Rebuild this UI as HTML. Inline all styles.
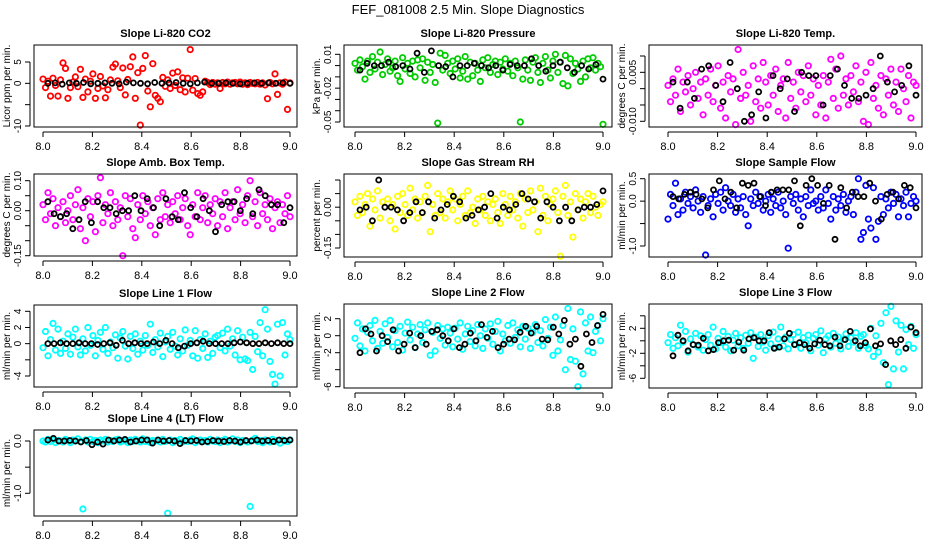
<!DOCTYPE html>
<html><head><meta charset="utf-8">
<style>
html,body{margin:0;padding:0;background:#fff;}
svg{display:block;font-family:"Liberation Sans",Arial,sans-serif;}
</style></head>
<body>
<svg id="chart" width="936" height="540" viewBox="0 0 936 540" xmlns="http://www.w3.org/2000/svg">
<rect width="936" height="540" fill="#fff"/>
<text x="468" y="14" text-anchor="middle" font-size="13">FEF_081008  2.5 Min. Slope Diagnostics</text>
</svg>
<script>
const xTicks = [8.0, 8.2, 8.4, 8.6, 8.8, 9.0];
const xTickLabels = ["8.0", "8.2", "8.4", "8.6", "8.8", "9.0"];

const co2Values = [1,-1,0.5,-3,1.2,-0.5,-3,0.8,4.8,3.5,-3.5,-1,0.3,1.5,-0.8,3.3,-3.3,1,-2,0.5,2.2,-3.5,-1.2,1.6,-0.6,-3.4,-1.5,0.8,3.8,4.5,0.6,-1,3.6,-2.7,0.9,3.9,6.2,-3.5,2.5,-9.8,3.5,6.5,-1.8,-5.5,4.6,-2.8,-3.5,-4.3,1.4,-0.7,0.8,-1.2,2.4,-0.5,2.7,-1.5,1.3,-2,1.2,7.9,-1.6,1.1,-2.4,-2.8,-2,0.5,0.2,-0.3,0.2,-0.2,0.1,-1.2,0.2,-0.1,0.3,-0.2,0.1,0.2,-0.1,0.3,-0.2,0.1,-0.3,0.2,0,-0.1,0.2,-0.2,0.1,-0.4,-3.6,0.2,-0.1,2.2,-2.6,0.1,-0.2,0.3,-6.1,0.1];
const co2Black = [0,0.1,-0.2,0.1,0,0.2,-0.1,0,0.1,0,-0.1,0.3,0.1,0,-0.1,0.2,0,0.1,0.2,0,-0.1,0.1,0.3,0,0,0.1,0,-0.1,0,0.1,0,0.1,0,0.1,0];

const pressValues = [0.002,-0.004,0.005,-0.001,-0.012,0.004,-0.006,0.008,-0.003,0.003,0.012,-0.008,0.001,0.006,-0.005,-0.002,0.004,-0.009,-0.014,0.007,-0.003,0.002,-0.007,0.004,-0.010,0.005,-0.002,0.006,-0.013,0.003,-0.006,0.001,-0.015,-0.051,0.011,-0.004,0.009,0.002,-0.007,0.004,-0.003,0.006,-0.011,-0.005,0.008,-0.012,0.003,-0.009,0.002,-0.004,-0.014,0.005,-0.002,0.007,-0.006,0.001,0.004,-0.008,0.003,-0.003,0.006,-0.005,0.002,-0.009,0.004,-0.002,-0.050,-0.012,0.005,-0.004,-0.013,0.003,0.007,-0.006,-0.015,0.002,0.008,-0.004,-0.011,0.004,0.010,-0.006,0.003,-0.016,0.009,-0.018,0.006,-0.007,0.002,-0.003,-0.014,0.004,-0.010,0.006,-0.002,0.007,-0.004,0.002,-0.001,-0.052];
const pressBlack = [-0.004,0.002,0.000,0.000,0.003,-0.001,0.000,-0.003,0.011,-0.006,0.013,0.000,-0.001,-0.010,0.000,0.000,0.002,0.000,-0.002,0.000,-0.004,0.001,0.000,0.000,0.006,0.000,-0.005,0.000,0.003,-0.002,-0.006,0.000,-0.003,0.001,-0.012];

const tempValues = [0.001,-0.004,0.003,-0.002,0.006,-0.007,0.002,-0.001,0.004,-0.005,0.000,0.005,-0.003,0.002,-0.008,0.003,-0.002,0.006,-0.004,0.001,0.007,-0.006,0.002,-0.009,0.004,-0.001,0.003,-0.011,0.012,-0.003,0.005,-0.002,0.001,-0.010,0.007,-0.004,0.003,-0.006,0.008,0.002,-0.005,0.004,-0.002,0.006,-0.007,0.001,0.003,-0.009,0.008,-0.003,0.002,-0.006,0.005,-0.001,0.004,-0.004,0.007,-0.002,0.003,-0.008,0.001,-0.005,0.004,-0.009,0.002,0.009,-0.003,0.006,-0.006,0.010,-0.002,0.003,-0.005,0.004,-0.001,0.007,-0.004,0.002,-0.010,0.005,-0.011,0.008,-0.003,0.001,-0.006,0.004,-0.008,0.003,-0.002,0.006,-0.005,0.002,-0.007,0.006,0.000,-0.004,0.004,-0.009,0.002,0.001];
const tempBlack = [0.002,-0.006,0.002,-0.003,0.006,0.007,0.001,-0.004,0.008,0.000,-0.010,-0.008,-0.001,-0.009,0.004,0.000,0.003,-0.007,0.005,0.004,0.004,-0.005,0.004,0.006,0.001,-0.003,-0.003,-0.002,0.000,0.010,0.002,-0.001,0.001,0.007,-0.002];

const ambValues = [0.02,-0.03,0.06,-0.01,0.04,-0.05,0.01,-0.02,0.03,-0.04,0.00,0.05,-0.03,0.02,0.07,-0.06,0.01,-0.10,0.04,-0.02,0.03,-0.07,0.05,0.11,-0.04,0.02,-0.01,0.06,-0.05,0.03,-0.03,0.01,-0.15,0.05,-0.02,0.04,-0.06,-0.09,0.02,-0.03,0.05,-0.01,0.03,-0.05,0.01,-0.08,0.04,-0.03,0.06,-0.02,0.02,-0.04,0.03,-0.01,0.05,-0.03,0.01,0.04,-0.05,-0.08,0.02,-0.02,0.06,-0.03,0.01,0.05,-0.04,0.02,-0.01,0.04,-0.05,0.03,-0.02,0.06,-0.06,0.01,0.03,-0.03,0.07,-0.01,0.02,-0.04,0.05,0.10,-0.02,0.03,-0.05,0.06,-0.01,0.02,-0.03,0.04,-0.06,0.01,0.03,-0.04,0.02,-0.01,0.05,-0.02];
const ambBlack = [0.03,-0.01,-0.02,-0.01,-0.06,-0.03,0.03,-0.04,0.03,0.01,0.01,-0.01,0.00,0.00,0.05,0.00,0.04,0.01,-0.05,0.04,-0.02,-0.03,0.06,0.01,-0.02,0.04,0.00,-0.07,0.02,0.03,0.03,0.00,0.04,-0.01,0.07,0.05,0.02,0.02,-0.04,0.01];

const rhValues = [0.02,-0.03,0.04,-0.02,0.01,0.05,-0.07,0.03,-0.01,0.06,-0.04,0.02,0.00,0.03,-0.05,0.01,-0.08,0.04,-0.02,0.05,0.01,-0.03,0.07,-0.01,0.03,-0.04,0.02,-0.02,0.04,0.08,-0.09,0.01,-0.03,0.05,-0.02,0.03,-0.04,0.02,0.06,-0.01,0.03,-0.05,0.01,0.04,-0.03,0.06,-0.02,0.00,-0.06,0.03,-0.01,0.04,-0.03,0.02,-0.05,0.01,0.03,-0.02,-0.06,0.05,0.01,-0.03,0.04,-0.01,0.02,-0.04,0.05,-0.07,0.03,-0.02,0.06,-0.01,0.02,-0.09,0.07,-0.03,0.04,-0.05,0.01,0.03,0.06,-0.02,-0.18,0.04,0.08,-0.03,0.02,-0.11,0.05,-0.01,0.03,-0.04,0.02,0.05,-0.02,0.04,0.00,-0.03,0.01,0.02];
const rhBlack = [-0.01,0.00,-0.05,0.10,0.00,0.00,-0.01,-0.05,-0.02,0.02,-0.02,0.02,-0.04,-0.01,0.01,0.04,0.02,-0.04,-0.03,-0.01,0.00,0.05,-0.04,0.00,-0.01,0.01,0.05,0.03,0.02,-0.04,0.02,0.00,-0.05,0.00,-0.05,-0.01,0.00,0.00,0.01,0.06];

const flowValues = [-0.4,0.15,-0.1,0.4,-0.3,0.05,-0.2,0.2,-0.05,0.1,-0.15,0.25,0.0,-0.25,0.1,-1.2,-0.1,0.05,-0.35,0.15,-0.05,0.2,-0.2,0.3,0.0,-0.1,0.15,-0.25,0.05,-0.15,0.1,-0.3,-0.55,0.05,-0.1,0.2,-0.05,0.1,-0.2,0.0,0.15,-0.25,0.05,-0.1,0.2,-0.15,0.0,-0.3,-1.05,0.1,-0.05,0.15,-0.2,0.05,-0.35,0.1,-0.1,0.25,-0.05,0.0,-0.2,0.1,-0.15,0.25,-0.05,-0.4,0.1,-0.2,0.05,-0.1,0.15,-0.25,0.0,0.1,-0.3,0.2,0.5,-0.85,-0.7,0.35,-0.4,-0.6,0.3,-0.85,-0.45,0.1,-0.3,0.05,-0.15,0.2,-0.05,0.15,-0.35,0.05,-0.1,0.2,-0.35,-0.05,0.1,0.0];
const flowBlack = [0.1,0.05,0.15,0.2,0.15,0.05,-0.15,0.25,0.45,0.05,0.2,-0.15,0.4,0.35,0.4,0.1,-0.1,0.2,0.25,0.25,0.25,0.45,-0.55,0.35,0.5,0.35,-0.05,0.35,-0.85,0.3,-0.15,0.2,0.1,0.1,0.4,0.0,-0.4,0.15,0.2,0.05,0.35,0.3,-0.15];

const line1Values = [-0.5,1.5,-1.5,0.5,2.5,-0.8,1.8,-1.2,0.3,-0.6,1.2,-1.3,0.8,1.8,-0.4,-1.4,0.6,-0.9,2.0,-0.2,1.0,-1.5,0.4,1.4,-0.7,2.0,-1.2,0.2,-0.5,1.1,-1.8,0.7,1.5,-0.3,-1.9,0.9,-0.6,1.2,-1.3,0.3,-0.8,1.0,-0.2,2.4,-1.1,0.5,-0.4,1.3,-1.6,0.2,0.9,-0.7,1.4,-0.3,-1.4,0.6,-0.9,1.7,-0.2,0.4,-1.5,1.6,-1.8,0.5,-0.6,1.2,-1.7,0.3,-1.2,0.8,1.0,-0.5,1.3,-0.9,1.8,-0.3,0.6,-1.4,1.6,-2.0,0.8,-1.9,-2.1,1.4,-3.2,0.9,-1.0,2.6,-1.5,4.2,1.8,-2.2,-3.8,-5.0,2.4,-4.0,2.6,-1.4,1.2,0.5];
const line1Black = [0,0,0.1,0,0,0.1,0,0,-0.1,0,0.1,-0.2,0.4,0,0.1,0,0,0.2,0,0.4,0,-0.5,-0.3,0,0.1,0.3,0,0,0,0,0.1,0.2,0.1,0,0,0.1,0,0.1,0,0];

const line2Values = [-0.3,1.5,-1.2,0.8,-1.8,0.4,1.2,-0.6,1.8,-1.5,0.5,-0.9,1.4,-0.2,1.8,-1.3,0.6,-0.8,1.1,-1.7,0.3,1.6,-0.5,1.0,-1.4,0.2,1.3,-0.8,0.7,1.5,-2.3,0.4,-1.8,1.2,-0.3,0.8,-1.1,1.0,0.3,-1.3,0.9,-0.4,1.5,-1.6,0.2,1.1,-0.7,0.6,-1.2,1.3,0.0,-1.5,0.8,-0.3,1.4,-1.0,0.5,1.7,-1.8,0.2,-0.6,1.2,-0.9,1.5,-0.2,0.7,-1.3,1.1,-0.4,0.9,-1.5,0.4,1.3,-0.8,0.6,-1.2,1.9,-0.3,1.0,-2.3,2.2,-1.8,-0.5,1.2,-4.0,3.2,-2.8,0.8,-3.0,-6.0,2.8,-4.5,1.5,-1.8,2.2,-2.0,0.5,1.2,-0.6,2.0];
const line2Black = [-2,0.8,0.2,-1.8,0,-0.7,0.7,-1.8,-1,0.3,-1.4,0,-1,0.5,0.7,0,-0.6,0.8,-1.4,-1,0.3,-0.6,1.3,-0.2,0.5,-1.4,-1,-0.4,-0.5,0.4,1.1,0.3,1.1,-0.4,-0.5,1,0.2,1.8,-1,-0.4,-3.6,0.2,-0.8,1.2,2.5];

const line3Values = [-0.3,1.0,-1.2,0.5,-0.8,2.5,-0.2,1.5,-1.8,0.3,-0.6,1.2,-1.0,0.8,-1.5,0.2,1.0,-0.7,2.2,-1.3,0.4,-0.3,1.5,-1.0,0.7,-1.6,0.1,1.2,-0.8,0.5,-1.2,0.9,-0.4,1.3,-2.8,0.6,-0.9,1.0,-0.2,-1.5,0.8,-0.5,1.4,-1.1,0.3,2.2,-0.8,0.6,-1.3,0.2,1.0,-0.6,1.4,-1.2,0.5,-0.3,0.9,-1.6,0.4,1.0,-0.7,1.6,-1.9,0.3,0.8,-1.0,1.2,-0.4,0.6,-1.3,0.2,1.1,-0.9,0.5,-0.2,1.3,-1.2,0.7,1.0,-0.8,-1.3,2.0,-2.5,0.8,-1.8,2.8,-3.5,4.5,-7.0,5.5,-4.5,3.2,-1.8,2.5,-4.5,1.8,-0.6,2.3,-1.2,1.0];
const line3Black = [-2.4,0.9,0,-1.6,-0.6,-0.7,0.4,-1.6,-1.4,-0.3,0,0.1,-1.5,-0.2,-1.5,0.3,0.5,0,0,1.3,-1.2,-1,0.3,1.2,-0.6,-0.3,-0.6,-1.2,-0.5,0.1,-0.6,-0.8,0.6,-0.8,0.2,1.5,0,-0.8,-0.3,1.9,-0.8,-0.5,-3.8,0,-0.6,0.2,-1.2,2.2,1.3];

const line4Values = [0,-0.02,0.03,-0.01,0.02,-0.03,0.01,0,-0.02,0.03,0.01,-0.03,0.02,0,0.04,-0.01,-1.3,0.02,-0.02,0.03,-0.01,0.01,-0.03,0.02,0,0.03,-0.02,0.01,-0.01,0.02,0.03,-0.02,0,0.01,-0.03,0.02,-0.01,0.03,0,-0.02,0.04,-0.01,0.02,-0.03,0.01,0,0.02,-0.02,0.03,-0.01,-1.38,0.02,-0.03,0.01,0,0.03,-0.02,0.01,-0.01,0.02,0.04,-0.03,0,0.02,-0.01,0.01,-0.02,0.03,0,-0.01,0.02,-0.03,0.01,0.03,-0.02,0,0.04,-0.01,0.02,-0.03,0.01,0,-0.02,-1.25,0.02,0.05,-0.01,0.01,-0.03,0.02,0,-0.02,0.03,-0.01,0.01,-0.04,0.02,0,-0.01,0.02];
const line4Black = [0.02,0.05,0,0,0.01,0,-0.02,0.01,-0.07,-0.02,-0.06,0.02,0,0.02,0.03,-0.02,0,0.02,0.02,-0.04,0.02,0,0.01,0,-0.05,0.01,0,0.01,-0.02,-0.01,0.01,0,-0.01,0.01,0,-0.02,0.01,0,0.02,0,0.01,-0.01,0.02,0.01,0.02];

const timeStart = 8.0, timeEnd = 9.0, blackStart = 8.02, blackEnd = 9.0;

const panels = [
 {id:"co2", title:"Slope Li-820 CO2", ylab:"Licor ppm per min.", color:"#ff0000", vals:co2Values, blk:co2Black, box:[34,45,297,127], xp:[43,290], yv:[5,-10], yp:[62,126], ticks:[5,0,-5,-10], tl:["5","0","","-10"]},
 {id:"pressure", title:"Slope Li-820 Pressure", ylab:"kPa per min.", color:"#00cc00", vals:pressValues, blk:pressBlack, box:[344,45,612,127], xp:[355,603], yv:[0.01,-0.05], yp:[54.3,122], ticks:[0.01,0,-0.01,-0.02,-0.03,-0.04,-0.05], tl:["0.01","","","-0.02","","","-0.05"]},
 {id:"temp", title:"Slope Li-820 Temp.", ylab:"degrees C per min.", color:"#ff00ff", vals:tempValues, blk:tempBlack, box:[649,45,922,127], xp:[668,916], yv:[0.01,-0.01], yp:[56,121.3], ticks:[0.01,0.005,0,-0.005,-0.01], tl:["","0.005","","","-0.010"]},
 {id:"amb-box-temp", title:"Slope Amb. Box Temp.", ylab:"degrees C per min.", color:"#ff00ff", vals:ambValues, blk:ambBlack, box:[34,174,297,256], xp:[43,290], yv:[0.10,-0.15], yp:[180.7,255.7], ticks:[0.10,0.05,0,-0.05,-0.10,-0.15], tl:["0.10","","0.00","","","-0.15"]},
 {id:"gas-rh", title:"Slope Gas Stream RH", ylab:"percent per min.", color:"#ffff00", vals:rhValues, blk:rhBlack, box:[344,174,612,257], xp:[355,603], yv:[0.10,-0.15], yp:[180,248], ticks:[0.10,0.05,0,-0.05,-0.10,-0.15], tl:["","","0.00","","","-0.15"]},
 {id:"sample-flow", title:"Slope Sample Flow", ylab:"ml/min per min.", color:"#0000ff", vals:flowValues, blk:flowBlack, box:[649,174,922,257], xp:[668,916], yv:[0.5,-1.0], yp:[178.7,246], ticks:[0.5,0,-0.5,-1.0], tl:["0.5","0.0","","-1.0"]},
 {id:"line1-flow", title:"Slope Line 1 Flow", ylab:"ml/min per min.", color:"#00ffff", vals:line1Values, blk:line1Black, box:[34,305,297,387], xp:[43,290], yv:[4,-4], yp:[311.3,376], ticks:[4,2,0,-2,-4], tl:["4","2","0","","-4"]},
 {id:"line2-flow", title:"Slope Line 2 Flow", ylab:"ml/min per min.", color:"#00ffff", vals:line2Values, blk:line2Black, box:[344,304,612,388], xp:[355,603], yv:[2,-6], yp:[318.7,386.7], ticks:[2,0,-2,-4,-6], tl:["2","0","-2","","-6"]},
 {id:"line3-flow", title:"Slope Line 3 Flow", ylab:"ml/min per min.", color:"#00ffff", vals:line3Values, blk:line3Black, box:[649,304,922,388], xp:[668,916], yv:[2,-6], yp:[328.3,378.3], ticks:[4,2,0,-2,-4,-6], tl:["","2","","-2","","-6"]},
 {id:"line4-flow", title:"Slope Line 4 (LT) Flow", ylab:"ml/min per min.", color:"#00ffff", vals:line4Values, blk:line4Black, box:[34,430,297,516], xp:[43,290], yv:[0,-1], yp:[441,493.3], ticks:[0,-0.5,-1], tl:["0.0","","-1.0"]}
];

const NS = "http://www.w3.org/2000/svg";
const svg = document.getElementById("chart");
function mk(tag, attrs, parent){ const e = document.createElementNS(NS, tag); for (const k in attrs) e.setAttribute(k, attrs[k]); (parent||svg).appendChild(e); return e; }

panels.forEach(p => {
  const g = mk("g", {});
  
  
  const xs = t => p.xp[0] + (t - 8.0) * (p.xp[1] - p.xp[0]);
  const ys = v => p.yp[0] + (v - p.yv[0]) * (p.yp[1] - p.yp[0]) / (p.yv[1] - p.yv[0]);
  const [x0,y0,x1,y1] = p.box;
  const t = mk("text", {x:(x0+x1)/2, y:y0-8, "text-anchor":"middle", "font-size":"11", "font-weight":"bold"}, g);
  t.textContent = p.title;
  
  
  const pts = mk("g", {fill:"none", stroke:p.color, "stroke-width":"1.8"}, g);
  
  
  const n = p.vals.length;
  p.vals.forEach((v,i) => {
    const tm = timeStart + i*(timeEnd-timeStart)/(n-1);
    const c = mk("circle", {cx:xs(tm).toFixed(1), cy:ys(v).toFixed(1), r:"2.7"}, pts);
    
    
  });
  const bp = mk("g", {fill:"none", stroke:"#000", "stroke-width":"1.8"}, g);
  
  
  const m = p.blk.length;
  p.blk.forEach((v,i) => {
    const tm = blackStart + i*(blackEnd-blackStart)/(m-1);
    const c = mk("circle", {cx:xs(tm).toFixed(1), cy:ys(v).toFixed(1), r:"2.5"}, bp);
    
    
  });
  const b = mk("rect", {x:x0, y:y0, width:x1-x0, height:y1-y0, fill:"none", stroke:"#000", "stroke-width":"1"}, g);
  
  
  const xa = mk("g", {}, g);
  
  
  mk("line", {x1:xs(xTicks[0]), x2:xs(xTicks[xTicks.length-1]), y1:y1+5, y2:y1+5, stroke:"#000"}, xa);
  xTicks.forEach((tv,i) => {
    mk("line", {x1:xs(tv), x2:xs(tv), y1:y1+5, y2:y1+10, stroke:"#000"}, xa);
    const l = mk("text", {x:xs(tv), y:y1+23, "text-anchor":"middle", "font-size":"11"}, xa);
    l.textContent = xTickLabels[i];
    
    
  });
  const ya = mk("g", {}, g);
  
  
  const ax = x0 - 4;
  mk("line", {x1:ax, x2:ax, y1:ys(p.ticks[0]), y2:ys(p.ticks[p.ticks.length-1]), stroke:"#000"}, ya);
  p.ticks.forEach((tv,i) => {
    mk("line", {x1:ax-5, x2:ax, y1:ys(tv), y2:ys(tv), stroke:"#000"}, ya);
    if (p.tl[i]) {
      const l = mk("text", {x:ax-9, y:ys(tv), "text-anchor":"middle", "font-size":"10", transform:`rotate(-90 ${ax-9} ${ys(tv)})`}, ya);
      l.textContent = p.tl[i];
      
      
    }
  });
  const lx = x0 - 24, ly = (y0+y1)/2;
  const yl = mk("text", {x:lx, y:ly, "text-anchor":"middle", "font-size":"10", transform:`rotate(-90 ${lx} ${ly})`}, g);
  yl.textContent = p.ylab;
  
  
});
</script>
</body></html>
